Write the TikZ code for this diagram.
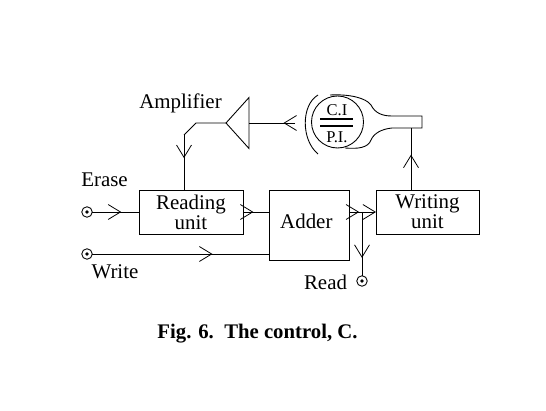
\documentclass[tikz,border=0pt]{standalone}
\usepackage{fontspec}
\setmainfont{Liberation Serif}
\usetikzlibrary{arrows.meta,positioning,shapes.geometric,decorations.markings}

\tikzset{
    unitbox/.style={draw, align=center, inner sep=0pt, outer sep=0pt, font=\fontsize{11.9}{10.2}\selectfont},
    port/.style={draw, circle, minimum size=0.21cm, inner sep=0pt, outer sep=0pt,
        path picture={\fill (path picture bounding box.center) circle (1.1pt);}},
    lbl/.style={inner sep=0pt, font=\fontsize{11.9}{14}\selectfont},
    chev/.style={postaction={decorate}, decoration={markings,
        mark=at position #1 with {\arrow{Straight Barb[length=7pt,width=8.5pt,line width=0.45pt]}}}}
}

\begin{document}
\begin{tikzpicture}[x=0.02cm, y=-0.02cm, line width=0.5pt]
    \useasboundingbox (0,0) rectangle (546,411);

    \node[unitbox, minimum width=2.08cm, minimum height=0.88cm] (reading) at (191,212) {Reading\\ unit};
    \node[unitbox, minimum width=1.6cm, minimum height=1.4cm, right=0.52cm of reading.north east, anchor=north west] (adder) {\raisebox{4pt}{Adder}\hspace*{3pt}};
    \node[unitbox, minimum width=2.06cm, minimum height=0.88cm, right=0.54cm of adder.north east, anchor=north west] (writing) {Writing\\ unit};

    \node[port] (erase) at (87,212) {};
    \node[port] (write) at (87,254) {};
    \node[port] (read) at (362,281) {};

    \node[lbl] (eraselbl) at (104.5,180) {Erase};
    \node[lbl] (writelbl) at (115,272) {Write};
    \node[lbl] (readlbl) at (325.5,282) {Read};
    \node[lbl] (amplbl) at (180.5,103) {Amplifier};
    \node[lbl, font=\bfseries\fontsize{11.8}{14}\selectfont] (caption) at (257.5,334) {Fig. 6.\ \ The control, C.};

    % amplifier and tube
    \node[draw, isosceles triangle, isosceles triangle apex angle=96, isosceles triangle stretches,
        shape border rotate=180, minimum width=1.02cm, minimum height=0.46cm, inner sep=0pt, outer sep=0pt,
        anchor=apex] (amp) at (226,123) {};
    \node[draw, circle, minimum size=1.04cm, inner sep=0pt, outer sep=0pt] (tube) at (337.5,122) {};
    \node[inner sep=0pt, font=\fontsize{9.4}{10}\selectfont] (ci) at (337,110) {C.I};
    \node[inner sep=0pt, font=\fontsize{9.4}{10}\selectfont] (pi) at (337,137) {P.I.};
    \draw[line width=1.1pt] (320,119) -- (353,119);
    \draw[line width=1.1pt] (320,126) -- (353,126);
    \draw (318,95) .. controls (301,105) and (301,140) .. (318,154);
    \draw (330,95) .. controls (350,94) and (366,98) .. (371,105)
        .. controls (375,113) and (382,116) .. (392,116) -- (422,116) -- (422,128) -- (392,128)
        .. controls (382,129) and (374,133) .. (371,140)
        .. controls (368,148) and (358,149) .. (345,148);

    \coordinate (beam) at (295,123);
    \coordinate (bend) at (196,123);
    \coordinate (knee) at (184,135);
    \coordinate (junc) at (362,212);
    \coordinate (neck) at (411,128);

    \draw[chev=0.25] (beam) -- (amp.lower side |- beam);
    \draw (amp.apex) -- (bend) -- (knee);
    \draw[chev=0.42] (knee) -- (knee |- reading.north);
    \draw[chev=0.62] (erase) -- (reading);
    \draw[chev=0.4] (reading) -- (reading -| adder.west);
    \draw[chev=0.68] (write) -- (write -| adder.west);
    \draw[chev=0.78] (adder.east |- junc) -- (junc);
    \draw[-{Straight Barb[length=7pt,width=8.5pt,line width=0.45pt]}] (junc) -- (writing.west |- junc);
    \draw[chev=0.72] (junc) -- (read);
    \draw[chev=0.57] (neck |- writing.north) -- (neck);
\end{tikzpicture}
\end{document}
